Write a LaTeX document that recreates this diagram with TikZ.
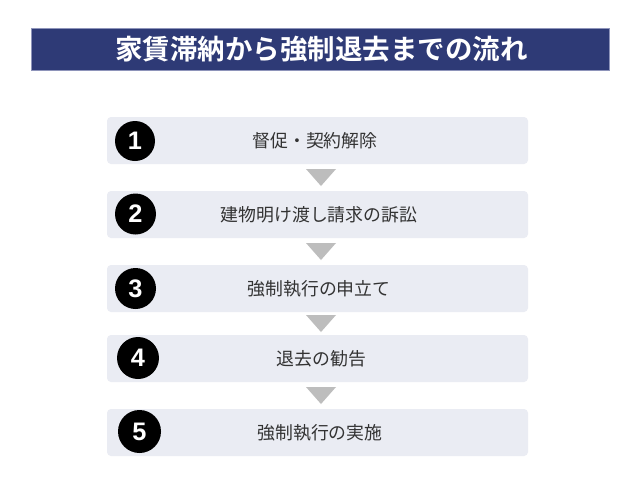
\documentclass[tikz,border=0pt]{standalone}
\usepackage{fontspec}
\setmainfont{Noto Sans CJK JP}
\newfontfamily\jpbold{Noto Sans CJK JP Bold}
\newfontfamily\digitfont{Liberation Sans}
\usetikzlibrary{calc}
\definecolor{navy}{HTML}{2E3A76}
\definecolor{navyedge}{HTML}{8E94BA}
\definecolor{boxfill}{HTML}{EAECF3}
\definecolor{trigrey}{HTML}{BDBDBD}
\definecolor{txt}{HTML}{333333}
\tikzset{
  stepbox/.style={rectangle, fill=boxfill, rounded corners=3pt, minimum width=315.75pt, minimum height=35.25pt, inner sep=0pt},
  steptext/.style={text=txt, inner sep=0pt, font=\fontsize{13.4pt}{15pt}\selectfont},
  numdot/.style={circle, fill=black, inner sep=0pt, text=white, font=\digitfont\bfseries\fontsize{19pt}{20pt}\selectfont},
  downtri/.style={fill=trigrey}
}
\begin{document}
\begin{tikzpicture}[x=0.75pt,y=-0.75pt]
\useasboundingbox (0,0) rectangle (640,500);
\fill[white] (0,0) rectangle (640,500);
% title
\node[rectangle, fill=navy, draw=navyedge, line width=0.6pt, minimum width=433.5pt, minimum height=31.5pt, inner sep=0pt] (title) at (320,49) {};
\node[text=white, font=\jpbold\fontsize{20.6pt}{22pt}\selectfont, inner sep=0pt] (titletext) at (321.5,49) {家賃滞納から強制退去までの流れ};
% boxes
\node[stepbox] (b1) at (317.5,140.5) {};
\node[stepbox] (b2) at (317.5,214.5) {};
\node[stepbox] (b3) at (317.5,288.5) {};
\node[stepbox] (b4) at (317.5,358.5) {};
\node[stepbox] (b5) at (317.5,432.5) {};
\node[steptext] (t1) at (315,140.5) {督促・契約解除};
\node[steptext] (t2) at (319,214.5) {建物明け渡し請求の訴訟};
\node[steptext] (t3) at (319,288.5) {強制執行の申立て};
\node[steptext] (t4) at (321.5,358.5) {退去の勧告};
\node[steptext] (t5) at (320,432.5) {強制執行の実施};
% numbers
\node[numdot, minimum size=30pt] (n1) at (135,141) {1};
\node[numdot, minimum size=30.75pt] (n2) at (135.5,214) {2};
\node[numdot, minimum size=30.75pt] (n3) at (135.5,288.5) {3};
\node[numdot, minimum size=31.5pt] (n4) at (138,358) {4};
\node[numdot, minimum size=32.25pt] (n5) at (139.5,431.5) {5};
% arrows (triangles)
\foreach \a/\b in {b1/b2,b2/b3,b3/b4,b4/b5}{
  \coordinate (m) at ($(\a.south)!0.5!(\b.north)$);
  \fill[downtri] ($(m)+(-11.5,-8.5)$) -- ($(m)+(18.5,-8.5)$) -- ($(m)+(3.5,8.5)$) -- cycle;
}
\end{tikzpicture}
\end{document}
